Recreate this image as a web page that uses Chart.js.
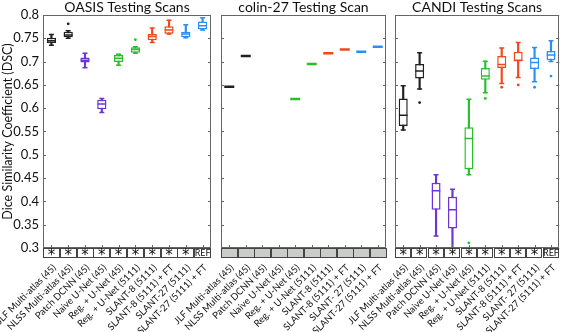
<!DOCTYPE html>
<html>
<head>
<meta charset="utf-8">
<script src="https://cdn.jsdelivr.net/npm/chart.js@4.4.0/dist/chart.umd.min.js"></script>
<style>
  html, body { margin: 0; padding: 0; background: #fff; }
  .panel { position: absolute; left: 0; top: 0; width: 565px; height: 332px; }
</style>
</head>
<body>
<div class="panel"><canvas id="cOasis"></canvas></div>
<div class="panel"><canvas id="cColin"></canvas></div>
<div class="panel"><canvas id="cCandi"></canvas></div>
<script>
// ---- data ----
const oasisLabels = ["JLF Multi-atlas (45)", "NLSS Multi-atlas (45)", "Patch DCNN (45)", "Naive U-Net (45)",
  "Reg. + U-Net (45)", "Reg. + U-Net (5111)", "SLANT-8 (5111)", "SLANT-8 (5111) + FT",
  "SLANT-27 (5111)", "SLANT-27 (5111) + FT"];
const colinLabels = ["JLF Multi-atlas (45)", "NLSS Multi-atlas (45)", "Patch DCNN (45)", "Naive U-Net (45)",
  "Reg. + U-Net (45)", "Reg. + U-Net (5111)", "SLANT-8 (5111)", "SLANT-8 (5111) + FT",
  "SLANT- 27 (5111)", "SLANT-27 (5111) + FT"];
const candiLabels = colinLabels;

const methodColors = ["#231f20", "#231f20", "#6b35d8", "#6b35d8", "#27c127", "#27c127",
  "#f2461c", "#f2461c", "#2b8ef0", "#2b8ef0"];

const yTicks = [0.3, 0.35, 0.4, 0.45, 0.5, 0.55, 0.6, 0.65, 0.7, 0.75, 0.8];

// OASIS testing scans
const oasisMin = [0.735, 0.750, 0.687, 0.591, 0.692, 0.718, 0.741, 0.759, 0.751, 0.768];
const oasisQ1  = [0.740, 0.752, 0.698, 0.598, 0.699, 0.719, 0.746, 0.760, 0.752, 0.769];
const oasisMed = [0.745, 0.757, 0.703, 0.609, 0.707, 0.726, 0.754, 0.768, 0.759, 0.777];
const oasisQ3  = [0.751, 0.764, 0.709, 0.618, 0.714, 0.731, 0.759, 0.776, 0.764, 0.786];
const oasisMax = [0.758, 0.766, 0.718, 0.621, 0.716, 0.732, 0.772, 0.789, 0.779, 0.794];
const oasisOut = [null, 0.781, null, null, null, 0.747, null, null, null, null];
const oasisMarks = ["*", "*", "*", "*", "*", "*", "*", "*", "*", "REF"];

// colin-27 testing scan (single scan)
const colinDsc = [0.646, 0.712, null, null, 0.620, 0.695, 0.718, 0.726, 0.721, 0.732];
const colinMarks = ["", "", "", "", "", "", "", "", "", ""];

// CANDI testing scans
const candiMin = [0.553, 0.641, 0.326, 0.300, 0.457, 0.633, 0.653, 0.666, 0.657, 0.700];
const candiQ1  = [0.562, 0.664, 0.382, 0.342, 0.469, 0.661, 0.686, 0.700, 0.684, 0.703];
const candiMed = [0.585, 0.680, 0.423, 0.382, 0.535, 0.669, 0.694, 0.703, 0.698, 0.714];
const candiQ3  = [0.621, 0.695, 0.440, 0.410, 0.559, 0.686, 0.712, 0.721, 0.709, 0.723];
const candiMax = [0.648, 0.719, 0.457, 0.426, 0.619, 0.701, 0.729, 0.741, 0.730, 0.745];
const candiOut = [null, 0.612, null, null, 0.311, 0.621, 0.645, 0.650, 0.645, 0.669];
const candiMarks = ["*", "*", "*", "*", "*", "*", "*", "*", "*", "REF"];

const FONT = "Lato";
Chart.defaults.font.family = FONT;
Chart.defaults.color = "#111";

// frame, inward ticks and the significance row under each panel
const panelFrame = {
  id: "panelFrame",
  afterDraw(chart, args, opts) {
    const { ctx, chartArea: a, scales: { x, y } } = chart;
    ctx.save();
    ctx.strokeStyle = "#666";
    ctx.lineWidth = 1;
    ctx.strokeRect(Math.round(a.left) + 0.5, Math.round(a.top) + 0.5,
      Math.round(a.width) - 1, Math.round(a.height) - 1);
    ctx.beginPath();
    yTicks.forEach(v => {
      const py = Math.round(y.getPixelForValue(v)) + 0.5;
      ctx.moveTo(a.left, py); ctx.lineTo(a.left + 3, py);
      ctx.moveTo(a.right, py); ctx.lineTo(a.right - 3, py);
    });
    chart.data.labels.forEach((l, i) => {
      const px = Math.round(x.getPixelForValue(i)) + 0.5;
      ctx.moveTo(px, a.bottom); ctx.lineTo(px, a.bottom - 3);
    });
    ctx.stroke();

    // row of cells
    const w = x.width / chart.data.labels.length;
    const top = a.bottom, h = 10;
    opts.marks.forEach((m, i) => {
      const cx = x.getPixelForValue(i);
      const l = Math.round(cx - w / 2) + 0.5;
      ctx.fillStyle = opts.cellFill;
      ctx.fillRect(l, top, Math.round(w) - 1, h);
      ctx.strokeStyle = "#444";
      ctx.strokeRect(l, top + 0.5, Math.round(w) - 1, h - 1);
      if (m) {
        ctx.fillStyle = "#111";
        ctx.textAlign = "center";
        ctx.textBaseline = "middle";
        if (m === "*") {
          ctx.font = "15px 'DejaVu Sans'";
          ctx.fillText(m, cx, top + h / 2 + 3);
        } else {
          ctx.font = "9px " + FONT;
          ctx.fillText(m, cx, top + h / 2 + 0.5);
        }
      }
    });
    ctx.restore();
  }
};

function boxDatasets(lo, q1, med, q3, hi, out) {
  return [
    { type: "bar", data: lo.map((v, i) => [v, hi[i]]), backgroundColor: methodColors,
      barThickness: 1.5, grouped: false, order: 3 },
    { type: "bar", data: q1.map((v, i) => [v, q3[i]]), backgroundColor: "#fff",
      borderColor: methodColors, borderWidth: 1.5, borderSkipped: false,
      barPercentage: 0.55, categoryPercentage: 1, grouped: false, order: 2 },
    { type: "line", data: med, showLine: false, pointStyle: "line", pointRadius: 4.3,
      pointBorderWidth: 1.5, pointBorderColor: methodColors, order: 1 },
    { type: "line", data: lo, showLine: false, pointStyle: "line", pointRadius: 2.5,
      pointBorderWidth: 1.5, pointBorderColor: methodColors, order: 1 },
    { type: "line", data: hi, showLine: false, pointStyle: "line", pointRadius: 2.5,
      pointBorderWidth: 1.5, pointBorderColor: methodColors, order: 1 },
    { type: "line", data: out, showLine: false, pointStyle: "circle", pointRadius: 1.4,
      pointBorderWidth: 0, pointBackgroundColor: methodColors, order: 1 }
  ];
}

function makePanel(id, labels, title, datasets, marks, cellFill, padding, showY) {
  return new Chart(document.getElementById(id), {
    type: "bar",
    data: { labels: labels, datasets: datasets },
    options: {
      responsive: true,
      maintainAspectRatio: false,
      animation: false,
      events: [],
      layout: { padding: padding },
      plugins: {
        legend: { display: false },
        tooltip: { enabled: false },
        title: { display: true, text: title, fullSize: false, color: "#111",
          font: { size: 14, weight: "normal", lineHeight: 1.0 }, padding: { top: 0, bottom: 1 } },
        panelFrame: { marks: marks, cellFill: cellFill }
      },
      scales: {
        x: {
          grid: { display: false, drawTicks: false },
          border: { display: false },
          ticks: { autoSkip: false, minRotation: 45, maxRotation: 45, padding: 14, labelOffset: 3,
            color: "#111", font: { size: 9.5 } },
          afterFit(s) { s.height = 84; s.paddingLeft = 0; s.paddingRight = 0; }
        },
        y: {
          display: showY,
          min: 0.3, max: 0.8,
          grid: { display: false, drawTicks: false },
          border: { display: false },
          afterBuildTicks(s) { s.ticks = yTicks.map(v => ({ value: v })); },
          ticks: { padding: 4, color: "#111", font: { size: 13 },
            callback: v => String(+v.toFixed(2)) },
          title: { display: showY, text: "Dice Similarity Coefficient (DSC)", color: "#111",
            padding: 0, font: { size: 12.5 } },
          afterFit(s) { if (showY) s.width = 43; }
        }
      }
    },
    plugins: [panelFrame]
  });
}

makePanel("cOasis", oasisLabels, "OASIS Testing Scans",
  boxDatasets(oasisMin, oasisQ1, oasisMed, oasisQ3, oasisMax, oasisOut),
  oasisMarks, "#fff", { left: 0, right: 354, top: 0, bottom: 0 }, true);

makePanel("cColin", colinLabels, "colin-27 Testing Scan",
  [{ type: "line", data: colinDsc, showLine: false, pointStyle: "line", pointRadius: 5,
     pointBorderWidth: 2.5, pointBorderColor: methodColors }],
  colinMarks, "#c8cdc8", { left: 221, right: 179, top: 0, bottom: 0 }, false);

makePanel("cCandi", candiLabels, "CANDI Testing Scans",
  boxDatasets(candiMin, candiQ1, candiMed, candiQ3, candiMax, candiOut),
  candiMarks, "#fff", { left: 395, right: 5, top: 0, bottom: 0 }, false);
</script>
</body>
</html>
